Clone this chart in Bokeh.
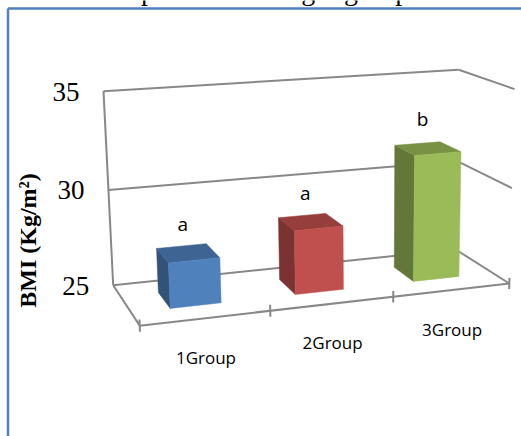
import numpy as np
from bokeh.plotting import figure
from bokeh.models import Range1d, ColumnDataSource, Label
from bokeh.core.properties import value
from bokeh.embed import file_html
from bokeh.resources import INLINE

# ---------------- data ----------------
categories = ["1Group", "2Group", "3Group"]
bmi_means = [27.3, 28.3, 31.6]
sig_letters = ["a", "a", "b"]
bar_colors = ["#4F81BD", "#C0504D", "#9BBB59"]
y_ticks = [25, 30, 35]
y_title = "BMI (Kg/m²)"
chart_title = "BMI comparison of weight groups"

# ---------------- layout ----------------
W, H = 521, 436
V0, V1 = 25, 35          # value axis range
NCAT = len(categories)

# camera anchors of the 3-D box: (category pos, value, depth) -> pixel (x, y-down)
anchors = [
    ((0, 25, 1), (112, 283)), ((3, 25, 1), (457, 250)),
    ((0, 25, 0), (140, 326)), ((3, 25, 0), (507, 281)),
    ((1, 25, 0), (270, 311)), ((2, 25, 0), (392, 298)),
    ((0, 35, 1), (103, 91)), ((3, 35, 1), (457, 70)),
    ((0, 30, 1), (108, 189)),
    ((3, 35, 0), (515, 88)), ((3, 30, 0), (512, 187)),
]


def _vec(u, v, w):
    return np.array([u / NCAT, (v - V0) / (V1 - V0), w, 1.0])


def fit_camera(pts):
    rows = []
    for (u, v, w), (x, y) in pts:
        X = _vec(u, v, w)
        xn, yn = x / 500.0, y / 500.0
        rows.append(np.concatenate([X, np.zeros(4), -xn * X]))
        rows.append(np.concatenate([np.zeros(4), X, -yn * X]))
    _, _, vt = np.linalg.svd(np.array(rows))
    return vt[-1].reshape(3, 4)


CAM = fit_camera(anchors)


def proj(u, v, w):
    x, y, s = CAM @ _vec(u, v, w)
    return x / s * 500.0, H - y / s * 500.0   # bokeh data coords (y up)


def seg(a, b):
    pa, pb = proj(*a), proj(*b)
    return [pa[0], pb[0]], [pa[1], pb[1]]


p = figure(width=W, height=H, x_range=Range1d(0, W), y_range=Range1d(0, H),
           output_backend="svg", toolbar_location=None, min_border=0,
           x_axis_type=None, y_axis_type=None, title=None)
p.outline_line_color = None
p.background_fill_color = "white"
p.border_fill_color = "white"

# chart-area border
p.line([7.5, 7.5], [0, H - 8], line_color="#4F81BD", line_width=2.5)
p.line([7.5, W], [H - 8, H - 8], line_color="#4F81BD", line_width=2.5)

# title (cut off by the top of the picture, as in the original)
p.add_layout(Label(x=226, y=H + 10.5, text=chart_title,
                   text_font="Liberation Serif", text_font_size="28px",
                   text_align="center", text_baseline="middle",
                   text_color="black"))

# ---------------- walls / floor ----------------
wall_xs, wall_ys = [], []
segments = [
    ((0, V0, 1), (0, V1, 1)),              # back-left edge
    ((0, V0, 1), (0, V0, 0)),              # floor left edge
]
for t in y_ticks:
    segments.append(((0, t, 1), (NCAT, t, 1)))      # back wall grid
    segments.append(((NCAT, t, 1), (NCAT, t, 0)))   # side wall grid
segments.append(((0, V0, 0), (NCAT, V0, 0)))        # floor front edge
for k in range(NCAT + 1):
    segments.append(((k, V0 - 0.3, 0), (k, V0 + 0.3, 0)))  # ticks
for a, b in segments:
    xs, ys = seg(a, b)
    wall_xs.append(xs)
    wall_ys.append(ys)
p.multi_line(wall_xs, wall_ys, line_color="#888888", line_width=2)


def shade(hexcol, f):
    h = hexcol.lstrip("#")
    r, g, b = (int(h[i:i + 2], 16) for i in (0, 2, 4))
    return "#%02x%02x%02x" % (int(r * f), int(g * f), int(b * f))


# ---------------- bars ----------------
fx, fy, fc = [], [], []
lab_x, lab_y = [], []
for i, (val, col) in enumerate(zip(bmi_means, bar_colors)):
    u0, u1 = i + 0.3, i + 0.7
    w0, w1 = 0.3, 0.7
    faces = [
        ([(u0, V0, w1), (u0, V0, w0), (u0, val, w0), (u0, val, w1)], shade(col, 0.64)),
        ([(u0, val, w1), (u1, val, w1), (u1, val, w0), (u0, val, w0)], shade(col, 0.78)),
        ([(u0, V0, w0), (u1, V0, w0), (u1, val, w0), (u0, val, w0)], col),
    ]
    for pts, c in faces:
        pp = [proj(*q) for q in pts]
        fx.append([q[0] for q in pp])
        fy.append([q[1] for q in pp])
        fc.append(c)
    cx, cy = proj(i + 0.5, val, 0.5)
    lab_x.append(cx - 5)
    lab_y.append(cy + 29)

p.patches("xs", "ys", fill_color="fc", line_color="fc", line_width=0.5,
          source=ColumnDataSource(dict(xs=fx, ys=fy, fc=fc)))

p.text(x=lab_x, y=lab_y, text=sig_letters, text_font=value("Open Sans"),
       text_font_size="19px", text_align="center", text_baseline="middle",
       text_color="black")

# category labels
cat_pos = [proj(i + 0.5, V0, 0) for i in range(NCAT)]
p.text(x=[q[0] for q in cat_pos], y=[q[1] - 39 for q in cat_pos], text=categories,
       text_font=value("Open Sans"), text_font_size="17px",
       text_align="center", text_baseline="middle", text_color="black")

# value tick labels
tick_pos = [proj(0, t, 1) for t in y_ticks]
p.text(x=[q[0] - 24 for q in tick_pos], y=[q[1] - 0.5 for q in tick_pos],
       text=[str(t) for t in y_ticks], text_font=value("Liberation Serif"),
       text_font_size="27px", text_align="right", text_baseline="middle",
       text_color="black")

# value axis title
p.text(x=[27], y=[H - 240], text=[y_title], angle=np.pi / 2,
       text_font=value("Liberation Serif"), text_font_style="bold",
       text_font_size="24px", text_align="center", text_baseline="middle",
       text_color="black")

open("out.html", "w").write(file_html(p, INLINE))
